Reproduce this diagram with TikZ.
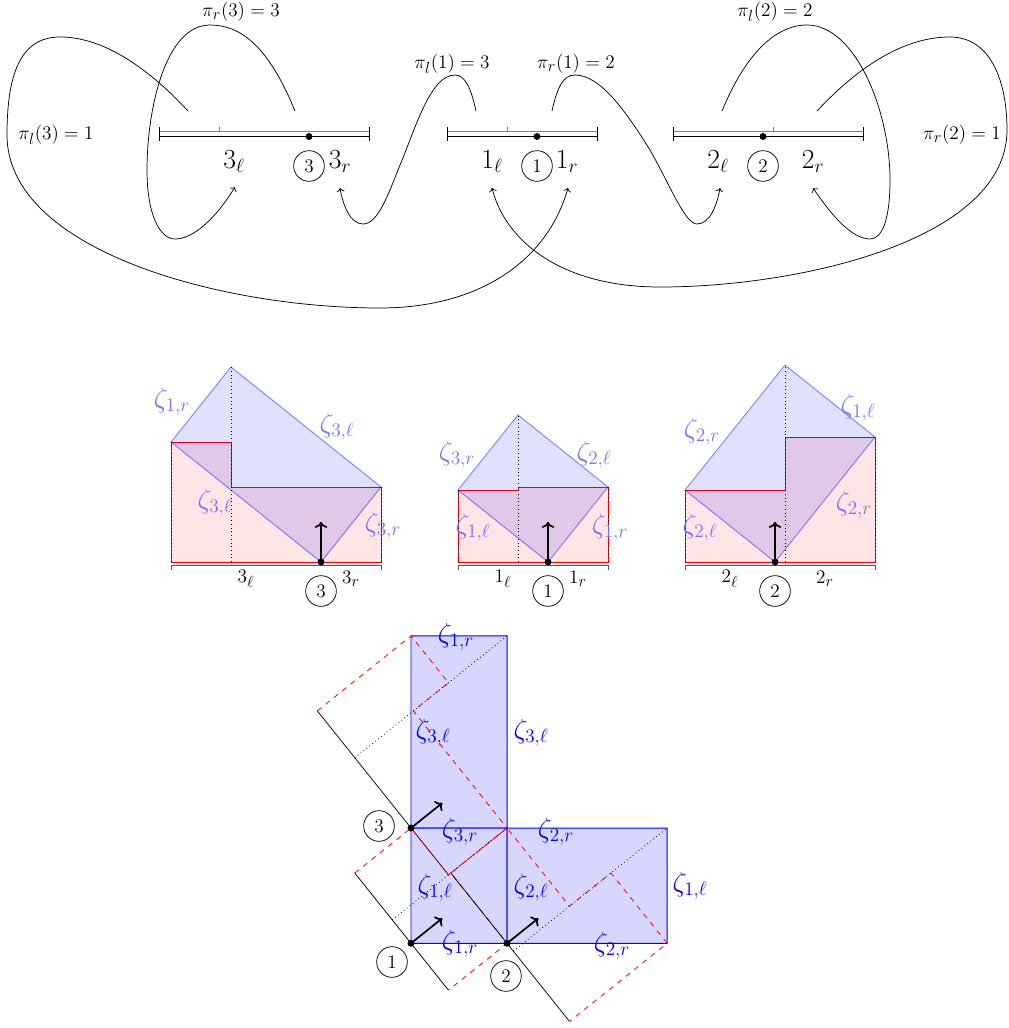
\documentclass[tikz,border=0pt]{standalone}
\usetikzlibrary{arrows.meta}
\DeclareMathSizes{20.74}{20.74}{15}{11}
\DeclareMathSizes{14.4}{14.4}{12}{9}
\newcommand\fA{\fontsize{14.4}{17}\selectfont}
\newcommand\fZ{\fontsize{20.74}{24}\selectfont}
\newcommand\fB{\fontsize{20.74}{24}\selectfont}
\begin{document}
\begin{tikzpicture}[x=0.75pt,y=-0.75pt,line width=0.55pt,
  plab/.style={font=\fA,inner sep=0pt},
  ilab/.style={font=\fB,inner sep=0pt},
  circ/.style={circle,draw,font=\fA,inner sep=0pt,minimum size=23pt},
  mz/.style={font=\fZ,text=blue!55,inner sep=0pt},
  bz/.style={font=\fZ,text=blue,inner sep=0pt},
  blab/.style={font=\fA,inner sep=0pt},
  conn/.style={->,line width=0.55pt},
  vec/.style={->,line width=1.3pt},
  redreg/.style={fill=red!10},
  redline/.style={draw=red,line width=0.7pt},
  bpoly/.style={fill=blue,fill opacity=0.12,draw=blue,draw opacity=0.5,line width=0.6pt},
  bfill/.style={fill=blue!16,draw=blue,line width=0.7pt},
  rdash/.style={draw=red,line width=0.6pt,dash pattern=on 4pt off 4pt},
  dots/.style={line width=0.6pt,dash pattern=on 0.6pt off 2.2pt},
  brk/.style={draw=black!65,line width=0.6pt},
  topl/.style={draw=black!50,line width=0.9pt}]
\useasboundingbox (0,0) rectangle (1009,1028);

% ================= TOP =================
% interval 3
\draw[topl] (159,131.5) -- (369,131.5);
\draw (159,136.5) -- (369,136.5);
\draw (159,127) -- (159,141) (369,127) -- (369,141);
\draw[topl,line width=0.6pt] (219,127) -- (219,131.5);
\fill (309,136.5) circle (2.6pt);
% interval 1
\draw[topl] (447,131.5) -- (597,131.5);
\draw (447,136.5) -- (597,136.5);
\draw (447,127) -- (447,141) (597,127) -- (597,141);
\draw[topl,line width=0.6pt] (507,127) -- (507,131.5);
\fill (537,136.5) circle (2.6pt);
% interval 2
\draw[topl] (673,131.5) -- (863,131.5);
\draw (673,136.5) -- (863,136.5);
\draw (673,127) -- (673,141) (863,127) -- (863,141);
\draw[topl,line width=0.6pt] (773,127) -- (773,131.5);
\fill (763,136.5) circle (2.6pt);

\node[ilab] (t3l) at (234,162) {$3_\ell$};
\node[circ] (t3c) at (309,166) {$3$};
\node[ilab] (t3r) at (340,162) {$3_r$};
\node[ilab] (t1l) at (492,162) {$1_\ell$};
\node[circ] (t1c) at (537,166) {$1$};
\node[ilab] (t1r) at (567,162) {$1_r$};
\node[ilab] (t2l) at (718,162) {$2_\ell$};
\node[circ] (t2c) at (763,166) {$2$};
\node[ilab] (t2r) at (813,162) {$2_r$};

\node[plab] (p3r) at (241,12) {$\pi_r(3)=3$};
\node[plab] (p3l) at (56,135) {$\pi_l(3)=1$};
\node[plab] (p1l) at (452,64) {$\pi_l(1)=3$};
\node[plab] (p1r) at (576,64) {$\pi_r(1)=2$};
\node[plab] (p2l) at (775,12) {$\pi_l(2)=2$};
\node[plab] (p2r) at (962,135) {$\pi_r(2)=1$};

\coordinate (s3r) at (295,111);
\coordinate (s3l) at (188,111);
\coordinate (s1l) at (476,111);
\coordinate (s1r) at (552,111);
\coordinate (s2l) at (722,111);
\coordinate (s2r) at (817,111);
\coordinate (e3l) at (235,187);
\coordinate (e3r) at (340,188);
\coordinate (e1l) at (492,188);
\coordinate (e1r) at (568,188);
\coordinate (e2l) at (720,188);
\coordinate (e2r) at (813,188);

\draw[conn] (s3r) .. controls (268,45) and (240,25) .. (210,25)
  .. controls (165,25) and (147,110) .. (147,170)
  .. controls (147,215) and (160,239) .. (175,239)
  .. controls (195,239) and (218,215) .. (e3l);
\draw[conn] (s3l) .. controls (150,70) and (105,37) .. (60,37)
  .. controls (20,37) and (7,75) .. (7,135)
  .. controls (7,250) and (220,308) .. (380,308)
  .. controls (478,308) and (547,262) .. (e1r);
\draw[conn] (s1l) .. controls (471,88) and (465,75) .. (455,75)
  .. controls (430,75) and (415,130) .. (400,165)
  .. controls (388,195) and (378,224) .. (363,224)
  .. controls (350,224) and (343,205) .. (e3r);
\draw[conn] (s1r) .. controls (557,88) and (563,75) .. (575,75)
  .. controls (600,75) and (625,110) .. (650,150)
  .. controls (670,185) and (685,224) .. (697,224)
  .. controls (710,224) and (717,205) .. (e2l);
\draw[conn] (s2l) .. controls (745,55) and (775,25) .. (807,25)
  .. controls (855,25) and (890,110) .. (890,180)
  .. controls (890,220) and (882,239) .. (870,239)
  .. controls (850,239) and (828,210) .. (e2r);
\draw[conn] (s2r) .. controls (860,65) and (905,37) .. (950,37)
  .. controls (990,37) and (1007,80) .. (1007,130)
  .. controls (1007,240) and (800,287) .. (660,287)
  .. controls (560,287) and (505,240) .. (e1l);

% ================= MIDDLE =================
% figure 3
\begin{scope}[shift={(321,562)},x=11.25pt,y=11.25pt]
  \fill[redreg] (-10,0) -- (-10,8) -- (-6,8) -- (-6,5) -- (4,5) -- (4,0) -- cycle;
  \draw[redline] (-10,0) -- (-10,8) -- (-6,8) -- (-6,5) -- (4,5) -- (4,0) -- cycle;
  \draw[dots] (-10,0) -- (-10,8) (4,0) -- (4,5);
  \filldraw[bpoly] (0,0) -- (-10,8) -- (-6,13) -- (4,5) -- cycle;
  \draw[dots] (-6,0) -- (-6,13);
  \draw[brk] (-10,-0.55) -- (-10,-0.2) -- (4,-0.2) -- (4,-0.55);
  \draw[vec] (0,0) -- (0,2.67);
  \fill (0,0) circle (2.6pt);
\end{scope}
% figure 1
\begin{scope}[shift={(548,562)},x=11.25pt,y=11.25pt]
  \fill[redreg] (-6,0) -- (-6,4.8) -- (-2,4.8) -- (-2,5) -- (4,5) -- (4,0) -- cycle;
  \draw[redline] (-6,0) -- (-6,4.8) -- (-2,4.8) -- (-2,5) -- (4,5) -- (4,0) -- cycle;
  \draw[dots] (-6,0) -- (-6,4.8) (4,0) -- (4,5);
  \filldraw[bpoly] (0,0) -- (-6,4.8) -- (-2,9.8) -- (4,5) -- cycle;
  \draw[dots] (-2,0) -- (-2,9.8);
  \draw[brk] (-6,-0.55) -- (-6,-0.2) -- (4,-0.2) -- (4,-0.55);
  \draw[vec] (0,0) -- (0,2.67);
  \fill (0,0) circle (2.6pt);
\end{scope}
% figure 2
\begin{scope}[shift={(775,562)},x=11.25pt,y=11.25pt]
  \fill[redreg] (-6,0) -- (-6,4.8) -- (0.667,4.8) -- (0.667,8.333) -- (6.667,8.333) -- (6.667,0) -- cycle;
  \draw[redline] (-6,0) -- (-6,4.8) -- (0.667,4.8) -- (0.667,8.333) -- (6.667,8.333) -- (6.667,0) -- cycle;
  \draw[dots] (-6,0) -- (-6,4.8) (6.667,0) -- (6.667,8.333);
  \filldraw[bpoly] (0,0) -- (-6,4.8) -- (0.667,13.133) -- (6.667,8.333) -- cycle;
  \draw[dots] (0.667,0) -- (0.667,13.133);
  \draw[brk] (-6,-0.55) -- (-6,-0.2) -- (6.667,-0.2) -- (6.667,-0.55);
  \draw[vec] (0,0) -- (0,2.67);
  \fill (0,0) circle (2.6pt);
\end{scope}

\node[mz] (m3a) at (172,402) {$\zeta_{1,r}$};
\node[mz] (m3b) at (337,427) {$\zeta_{3,\ell}$};
\node[mz] (m3c) at (215,503) {$\zeta_{3,\ell}$};
\node[mz] (m3d) at (383,526) {$\zeta_{3,r}$};
\node[mz] (m1a) at (457,455) {$\zeta_{3,r}$};
\node[mz] (m1b) at (594,455) {$\zeta_{2,\ell}$};
\node[mz] (m1c) at (473,528) {$\zeta_{1,\ell}$};
\node[mz] (m1d) at (610,528) {$\zeta_{1,r}$};
\node[mz] (m2a) at (702,432) {$\zeta_{2,r}$};
\node[mz] (m2b) at (858,408) {$\zeta_{1,\ell}$};
\node[mz] (m2c) at (700,528) {$\zeta_{2,\ell}$};
\node[mz] (m2d) at (854,505) {$\zeta_{2,r}$};

\node[blab] (b3l) at (246,579) {$3_\ell$};
\node[circ] (b3c) at (321,591) {$3$};
\node[blab] (b3r) at (351,579) {$3_r$};
\node[blab] (b1l) at (503,579) {$1_\ell$};
\node[circ] (b1c) at (548,591) {$1$};
\node[blab] (b1r) at (578,579) {$1_r$};
\node[blab] (b2l) at (730,579) {$2_\ell$};
\node[circ] (b2c) at (775,591) {$2$};
\node[blab] (b2r) at (825,579) {$2_r$};

% ================= BOTTOM =================
\begin{scope}[shift={(411,828)},rotate=-51.34,x=11.25pt,y=11.25pt]
  \filldraw[bfill] (0,0) -- (-10,8) -- (-6,13) -- (4,5) -- cycle;
\end{scope}
\begin{scope}[shift={(411,943.3)},rotate=-51.34,x=11.25pt,y=11.25pt]
  \filldraw[bfill] (0,0) -- (-6,4.8) -- (-2,9.8) -- (4,5) -- cycle;
\end{scope}
\begin{scope}[shift={(507.05,943.3)},rotate=-51.34,x=11.25pt,y=11.25pt]
  \filldraw[bfill] (0,0) -- (-6,4.8) -- (0.667,13.133) -- (6.667,8.333) -- cycle;
\end{scope}

\begin{scope}[shift={(411,828)},rotate=-51.34,x=11.25pt,y=11.25pt]
  \draw[rdash] (-10,0) -- (-10,8) -- (-6,8) -- (-6,5) -- (4,5) -- (4,0);
  \draw (-10,0) -- (4,0);
  \draw[dots] (-6,0) -- (-6,13);
  \draw[vec] (0,0) -- (0,2.67);
  \fill (0,0) circle (2.6pt);
\end{scope}
\begin{scope}[shift={(411,943.3)},rotate=-51.34,x=11.25pt,y=11.25pt]
  \draw[rdash] (-6,0) -- (-6,4.8) -- (-2,4.8) -- (-2,5) -- (4,5) -- (4,0);
  \draw (-6,0) -- (4,0);
  \draw[dots] (-2,0) -- (-2,9.8);
  \draw[vec] (0,0) -- (0,2.67);
  \fill (0,0) circle (2.6pt);
\end{scope}
\begin{scope}[shift={(507.05,943.3)},rotate=-51.34,x=11.25pt,y=11.25pt]
  \draw[rdash] (-6,0) -- (-6,4.8) -- (0.667,4.8) -- (0.667,8.333) -- (6.667,8.333) -- (6.667,0);
  \draw (-6,0) -- (6.667,0);
  \draw[dots] (0.667,0) -- (0.667,13.133);
  \draw[vec] (0,0) -- (0,2.67);
  \fill (0,0) circle (2.6pt);
\end{scope}

\node[bz] (z1) at (456,637) {$\zeta_{1,r}$};
\node[bz] (z2) at (433,733) {$\zeta_{3,\ell}$};
\node[bz] (z3) at (531,733) {$\zeta_{3,\ell}$};
\node[bz] (z4) at (460,832) {$\zeta_{3,r}$};
\node[bz] (z5) at (556,832) {$\zeta_{2,r}$};
\node[bz] (z6) at (435,888) {$\zeta_{1,\ell}$};
\node[bz] (z7) at (531,888) {$\zeta_{2,\ell}$};
\node[bz] (z8) at (690,886) {$\zeta_{1,\ell}$};
\node[bz] (z9) at (460,944) {$\zeta_{1,r}$};
\node[bz] (z10) at (612,946) {$\zeta_{2,r}$};

\node[circ] (c3) at (379,826) {$3$};
\node[circ] (c1) at (392,962) {$1$};
\node[circ] (c2) at (506,976) {$2$};
\end{tikzpicture}
\end{document}
